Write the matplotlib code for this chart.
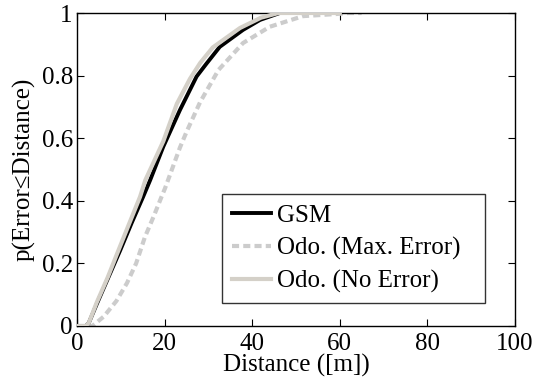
import numpy as np
import matplotlib.pyplot as plt

plt.rcParams['font.family'] = ['Liberation Serif', 'DejaVu Serif']

# CDF curves (distance in m, cumulative probability)
gsm_x = [0, 2, 2.7, 4.6, 7, 9.9, 12.5, 15.1, 16.7, 19.7, 23.5, 27.3, 29.6, 32.6, 37.9, 41.8, 46.3, 60]
gsm_y = [0, 0, 0.01, 0.073, 0.15, 0.243, 0.33, 0.413, 0.466, 0.573, 0.69, 0.797, 0.839, 0.892, 0.946, 0.978, 1.0, 1.0]

maxerr_x = [0, 3.5, 6.1, 9, 11.4, 13.5, 15.5, 17.5, 19.3, 20.1, 23.5, 25, 28.1, 32.3, 37.9, 44, 51.6, 59.4, 62, 65]
maxerr_y = [0, 0, 0.03, 0.08, 0.137, 0.2, 0.284, 0.35, 0.413, 0.44, 0.57, 0.62, 0.715, 0.818, 0.904, 0.956, 0.99, 0.997, 1.0, 1.0]

noerr_x = [0, 2, 2.7, 4.5, 7, 9.5, 12, 14.4, 15.6, 19.7, 22.8, 25.8, 28.1, 31, 37.2, 42, 46, 60]
noerr_y = [0, 0, 0.01, 0.075, 0.155, 0.243, 0.33, 0.413, 0.466, 0.59, 0.71, 0.79, 0.84, 0.89, 0.952, 0.985, 1.0, 1.0]

fig = plt.figure(figsize=(5.43, 3.83), dpi=100)
ax = fig.add_axes([77/543, 57/383, 438/543, 313/383])

ax.plot(gsm_x, gsm_y, color='black', lw=2.8, label='GSM', zorder=3)
ax.plot(maxerr_x, maxerr_y, color='#cccccc', lw=3, ls=(0, (1.7, 1.0)), label='Odo. (Max. Error)', zorder=2)
ax.plot(noerr_x, noerr_y, color='#d4d0c8', lw=3, label='Odo. (No Error)', zorder=4)

ax.set_xlim(0, 100)
ax.set_ylim(0, 1)
ax.set_xticks([0, 20, 40, 60, 80, 100])
ax.set_yticks([0, 0.2, 0.4, 0.6, 0.8, 1])
ax.set_yticklabels(['0', '0.2', '0.4', '0.6', '0.8', '1'])
ax.tick_params(direction='in', top=True, right=True, labelsize=18, length=5)
ax.tick_params(axis='x', pad=5)
ax.tick_params(axis='y', pad=3)
for s in ax.spines.values():
    s.set_linewidth(1.0)

ax.set_xlabel('Distance ([m])', fontsize=18, labelpad=-1)
ax.set_ylabel('p(Error\u2264Distance)', fontsize=18, labelpad=4)

leg = ax.legend(loc='lower left', bbox_to_anchor=(0.331, 0.0735, 0.600, 0.361), mode='expand',
                borderaxespad=0, fontsize=18, frameon=True, fancybox=False, edgecolor='black',
                handlelength=1.55, handletextpad=0.25, borderpad=0.4, labelspacing=0.4)
leg.get_frame().set_linewidth(1.0)

plt.savefig('out.png', dpi=100)
